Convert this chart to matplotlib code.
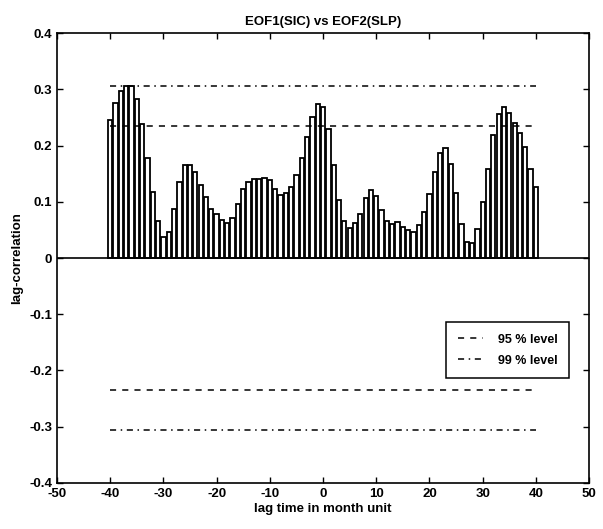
import numpy as np
import matplotlib.pyplot as plt

# lagged correlation, EOF1 of sea-ice vs EOF2 of sea-level pressure
lags = np.arange(-40, 41)
corr = [0.246, 0.276, 0.297, 0.306, 0.306, 0.282, 0.239, 0.177, 0.118, 0.065,
        0.038, 0.047, 0.088, 0.136, 0.165, 0.165, 0.153, 0.130, 0.108, 0.088,
        0.078, 0.068, 0.063, 0.071, 0.096, 0.123, 0.136, 0.140, 0.141, 0.143,
        0.138, 0.122, 0.112, 0.115, 0.127, 0.148, 0.178, 0.216, 0.251, 0.273,
        0.269, 0.229, 0.166, 0.104, 0.065, 0.053, 0.062, 0.079, 0.106, 0.121,
        0.111, 0.085, 0.065, 0.061, 0.064, 0.056, 0.049, 0.046, 0.058, 0.082,
        0.114, 0.153, 0.186, 0.195, 0.167, 0.115, 0.060, 0.028, 0.026, 0.052,
        0.100, 0.158, 0.218, 0.256, 0.268, 0.257, 0.240, 0.222, 0.198, 0.159,
        0.127]

# significance levels
level95 = 0.235
level99 = 0.305
level_span = [-40, 40]

x_ticks = [-50, -40, -30, -20, -10, 0, 10, 20, 30, 40, 50]
y_ticks = [-0.4, -0.3, -0.2, -0.1, 0, 0.1, 0.2, 0.3, 0.4]
x_labels = ['-50', '-40', '-30', '-20', '-10', '0', '10', '20', '30', '40', '50']
y_labels = ['-0.4', '-0.3', '-0.2', '-0.1', '0', '0.1', '0.2', '0.3', '0.4']

plt.rcParams['font.family'] = ['Liberation Sans', 'DejaVu Sans']
plt.rcParams['font.weight'] = 'bold'
plt.rcParams['axes.titleweight'] = 'bold'
plt.rcParams['axes.labelweight'] = 'bold'

fig = plt.figure(figsize=(6.03, 5.29), dpi=100)
ax = fig.add_axes([0.0945, 0.087, 0.8825, 0.8505])

ax.bar(lags, corr, width=0.8, color='white', edgecolor='black', linewidth=1.3, zorder=2)
ax.axhline(0, color='black', linewidth=1.2, zorder=3)

ax.plot(level_span, [level95, level95], '--', color='black', linewidth=1.1,
        dashes=(4, 4), zorder=4, label='95 % level')
ax.plot(level_span, [level99, level99], '-.', color='black', linewidth=1.1,
        dashes=(4, 3, 1, 3), zorder=4, label='99 % level')
ax.plot(level_span, [-level95, -level95], '--', color='black', linewidth=1.1,
        dashes=(4, 4), zorder=4)
ax.plot(level_span, [-level99, -level99], '-.', color='black', linewidth=1.1,
        dashes=(4, 3, 1, 3), zorder=4)

ax.set_xlim(-50, 50)
ax.set_ylim(-0.4, 0.4)
ax.set_xticks(x_ticks)
ax.set_xticklabels(x_labels)
ax.set_yticks(y_ticks)
ax.set_yticklabels(y_labels)
ax.tick_params(direction='in', top=True, right=True, length=4, width=1, labelsize=9.5)
for s in ax.spines.values():
    s.set_linewidth(1.2)

ax.set_title('EOF1(SIC) vs EOF2(SLP)', fontsize=9.5, pad=6)
ax.set_xlabel('lag time in month unit', fontsize=9.5, labelpad=2)
ax.set_ylabel('lag-correlation', fontsize=9.5, labelpad=4)

leg = ax.legend(loc='upper left', bbox_to_anchor=(0.731, 0.358), borderaxespad=0,
                fontsize=9, handlelength=2.0, handletextpad=1.2, frameon=True,
                fancybox=False, framealpha=1, edgecolor='black', borderpad=0.95,
                labelspacing=0.7)
leg.get_frame().set_linewidth(1.1)

fig.savefig('out.png', dpi=100)
